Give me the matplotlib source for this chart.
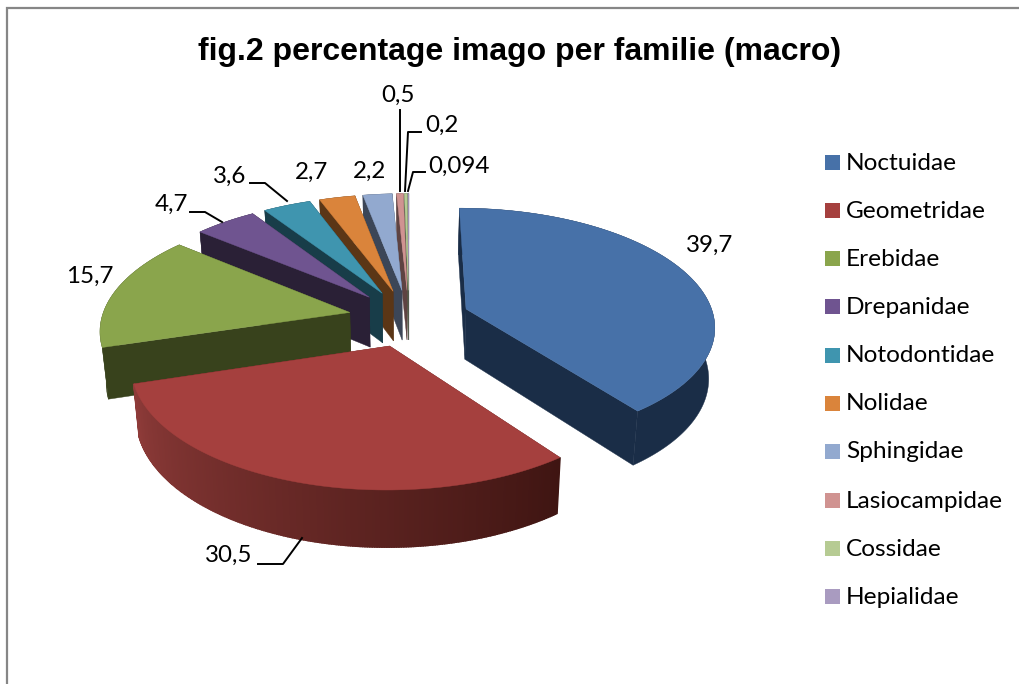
import matplotlib
matplotlib.use('Agg')
import matplotlib.pyplot as plt
import numpy as np
from matplotlib.colors import to_rgb

plt.rcParams['font.family'] = ['Lato', 'DejaVu Sans']

families = ['Noctuidae', 'Geometridae', 'Erebidae', 'Drepanidae', 'Notodontidae',
            'Nolidae', 'Sphingidae', 'Lasiocampidae', 'Cossidae', 'Hepialidae']
percent = [39.7, 30.5, 15.7, 4.7, 3.6, 2.7, 2.2, 0.5, 0.2, 0.094]

top_colors = ['#4771A8', '#A5403E', '#8AA54C', '#6F5490', '#3F95AF',
              '#DA843B', '#92A9CF', '#D09391', '#B6CB93', '#A99BC0']
side_colors = ['#1A2D47', '#7A302E', '#38421C', '#2A2036', '#183D49',
               '#5B3616', '#3C4657', '#5E4342', '#55604A', '#4A4458']
legend_colors = top_colors

label_xy = [(710, 245), (229, 555), (90, 276), (171, 204), (230, 176),
            (312, 172), (370, 171), (398, 95), (442, 125), (459, 166)]
leaders = {1: [(258, 564), (283, 564), (302, 538)],
           3: [(190, 212), (205, 212), (222, 222)],
           4: [(250, 183), (265, 183), (287, 201)],
           7: [(400, 110), (400, 191)],
           8: [(421, 132), (408, 132), (405, 191)],
           9: [(425, 172), (413, 172), (408, 191)]}

# fake 3d pie, simple perspective
cx, cy = 409, 318
A, d, k = 1860, 7.5, 0.47
explode = 0.245
depth = 0.204


def project(x, y, bottom=False):
    s = A / (d + y)
    if bottom:
        return cx + x * s * 0.98, cy - k * y * s * 0.98 + depth * s
    return cx + x * s, cy - k * y * s


fig = plt.figure(figsize=(10.2, 6.84), dpi=100)
ax = fig.add_axes([0, 0, 1, 1])
ax.set_xlim(0, 1020)
ax.set_ylim(684, 0)
ax.axis('off')

# chart border, only top and left show
ax.plot([7, 7, 1020], [684, 8, 8], color='#868686', lw=1.6, solid_joinstyle='miter')

total = sum(percent)
stops = np.cumsum([0] + percent) / total * 2 * np.pi

wedges = []
for i in range(len(percent)):
    a0, a1 = stops[i], stops[i + 1]
    mid = (a0 + a1) / 2
    wedges.append((i, a0, a1, np.sin(mid) * explode, np.cos(mid) * explode))
# far wedges first
wedges.sort(key=lambda w: -w[4])

for i, a0, a1, ox, oy in wedges:
    t = np.linspace(a0, a1, max(int((a1 - a0) * 120), 3))
    xs = ox + np.sin(t)
    ys = oy + np.cos(t)

    # cut faces
    for a in (a0, a1):
        ex, ey = ox + np.sin(a), oy + np.cos(a)
        p1 = project(ox, oy)
        p2 = project(ex, ey)
        p3 = project(ex, ey, True)
        p4 = project(ox, oy, True)
        col = side_colors[i]
        if i == 1:
            col = '#5E2320'
        ax.fill(*zip(p1, p2, p3, p4), color=col, lw=0.3, zorder=2)

    # rim
    if i == 1:
        for j in range(len(t) - 1):
            # red rim goes darker to the right
            f = (t[j] - a0) / (a1 - a0)
            col = np.array(to_rgb('#3F1512')) * (1 - f) + np.array(to_rgb('#8E3B39')) * f
            p = [project(xs[j], ys[j]), project(xs[j + 1], ys[j + 1]),
                 project(xs[j + 1], ys[j + 1], True), project(xs[j], ys[j], True)]
            ax.fill(*zip(*p), color=col, lw=1.2, zorder=2)
    else:
        rim = [project(a, b) for a, b in zip(xs, ys)]
        rim += [project(a, b, True) for a, b in zip(xs[::-1], ys[::-1])]
        ax.fill(*zip(*rim), color=side_colors[i], lw=0.3, zorder=2)

    # top
    px = [project(ox, oy)[0]] + [project(a, b)[0] for a, b in zip(xs, ys)]
    py = [project(ox, oy)[1]] + [project(a, b)[1] for a, b in zip(xs, ys)]
    ax.fill(px, py, color=top_colors[i], lw=0.3, zorder=2)

# data labels
for v, (lx, ly) in zip(percent, label_xy):
    ax.text(lx, ly, str(v).replace('.', ','), fontsize=17.4, color='black',
            ha='center', va='center', zorder=4)
for pts in leaders.values():
    ax.plot(*zip(*pts), color='black', lw=1.4, zorder=3)

# legend
legend_y = [163, 211, 259, 307, 356, 404, 452, 501, 549, 597]
for name, c, y in zip(families, legend_colors, legend_y):
    ax.fill([825, 840, 840, 825], [y - 8.5, y - 8.5, y + 6.5, y + 6.5], color=c, lw=0)
    ax.text(846, y, name, fontsize=17.6, color='black', va='center', ha='left')

ax.text(520, 52, 'fig.2 percentage imago per familie (macro)', fontsize=23,
        fontweight='bold', family='Liberation Sans', ha='center', va='center')

fig.savefig('out.png', dpi=100)
